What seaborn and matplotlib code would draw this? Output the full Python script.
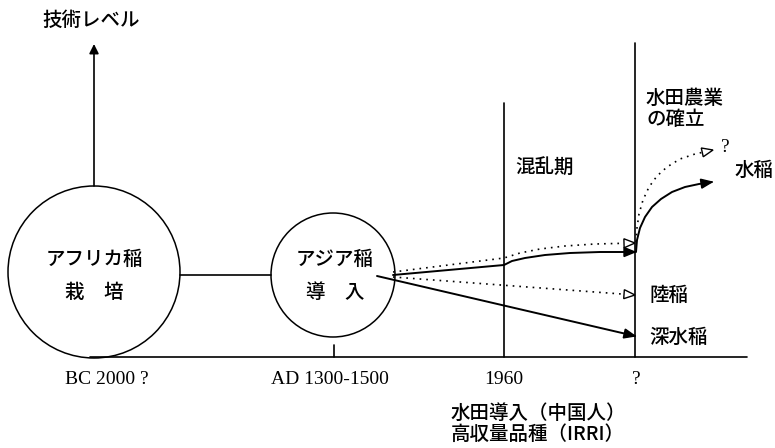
import numpy as np
import pandas as pd
import matplotlib
matplotlib.use("Agg")
import matplotlib.pyplot as plt
from matplotlib.patches import Circle, Polygon
import seaborn as sns

# ---------------- data ----------------
era_labels = ["BC 2000 ?", "AD 1300-1500", "1960", "?"]
era_x = [107, 330, 504, 636]
node_labels = [["アフリカ稲", "栽　培"], ["アジア稲", "導　入"]]
period_labels = ["混乱期", "水田農業\nの確立"]
variety_labels = ["水稲", "陸稲", "深水稲", "?"]
y_axis_label = "技術レベル"
note_labels = ["水田導入（中国人）", "高収量品種（IRRI）"]

# paths (x, level) -- screen pixel units
path_rain_dotted_x = [393, 504, 520, 540, 565, 595, 635]
path_rain_dotted_y = [272, 258, 253, 249, 246, 244, 243]
path_paddy_x = [393, 504, 512, 525, 545, 570, 600, 635]
path_paddy_y = [275, 265, 261, 258, 255, 253, 252, 252]
path_upland_x = [393, 635]
path_upland_y = [277, 295]
path_deep_x = [377, 635]
path_deep_y = [276, 336]
path_wet_x = [636, 637, 640, 645, 652, 661, 672, 685, 699, 712]
path_wet_y = [252, 240, 228, 217, 207, 199, 192, 187, 184, 182]
path_q_x = [636, 637, 639, 643, 649, 657, 667, 680, 695, 713]
path_q_y = [242, 228, 214, 200, 187, 176, 167, 159, 154, 150]

# ---------------- figure ----------------
sns.set_theme(style="white")
plt.rcParams["font.family"] = ["Noto Sans CJK JP", "DejaVu Sans"]

fig = plt.figure(figsize=(7.75, 4.48), dpi=100)
ax = fig.add_axes([0, 0, 1, 1])
ax.set_xlim(0, 775)
ax.set_ylim(448, 0)
ax.axis("off")

K = "black"


def draw_path(xs, ys, dotted=False, filled=True, lw=1.4):
    df = pd.DataFrame({"x": xs, "y": ys})
    sns.lineplot(data=df, x="x", y="y", ax=ax, sort=False, estimator=None,
                 color=K, lw=1.2 if dotted else lw,
                 dashes=False, legend=False)
    if dotted:
        ax.lines[-1].set_dashes([1, 3])
    ax.lines[-1].set_solid_joinstyle("round")
    # arrowhead
    x0, y0, x1, y1 = xs[-2], ys[-2], xs[-1], ys[-1]
    d = np.array([x1 - x0, y1 - y0], float)
    d /= np.linalg.norm(d)
    n = np.array([-d[1], d[0]])
    L, W = 11, 4.5
    tip = np.array([x1, y1])
    base = tip - d * L
    pts = [tip, base + n * W, base - n * W]
    ax.add_patch(Polygon(pts, closed=True, fc=K if filled else "white",
                         ec=K, lw=1.0, zorder=5))


# circles
ax.add_patch(Circle((94, 272), 86, fill=False, ec=K, lw=1.1))
ax.add_patch(Circle((333, 275), 62, fill=False, ec=K, lw=1.1))

# structural lines
ax.plot([180, 271], [275, 275], color=K, lw=1.2)
ax.plot([90, 747], [357, 357], color=K, lw=1.2)
ax.plot([334, 334], [345, 357], color=K, lw=1.2)
ax.plot([504, 504], [103, 357], color=K, lw=1.2)
ax.plot([635, 635], [43, 357], color=K, lw=1.2)
ax.annotate("", xy=(94, 44), xytext=(94, 186),
            arrowprops=dict(arrowstyle="-|>", color=K, lw=1.2,
                            mutation_scale=14, shrinkA=0, shrinkB=0))

# paths
draw_path(path_rain_dotted_x, path_rain_dotted_y, dotted=True, filled=False)
draw_path(path_paddy_x, path_paddy_y)
draw_path(path_upland_x, path_upland_y, dotted=True, filled=False)
draw_path(path_deep_x, path_deep_y)
draw_path(path_wet_x, path_wet_y)
draw_path(path_q_x, path_q_y, dotted=True, filled=False)

# texts
jp = dict(fontsize=14, color=K, fontweight="medium")
serif = dict(fontsize=14, color=K, family=["Liberation Serif", "DejaVu Serif"])

ax.text(42, 20, y_axis_label, ha="left", va="center", **jp)
for cx, lines in zip([94, 335], node_labels):
    ax.text(cx, 259, lines[0], ha="center", va="center", **jp)
    ax.text(cx, 293, lines[1], ha="center", va="center", **jp)

for lab, x in zip(era_labels, era_x):
    ax.text(x, 380, lab, ha="center", va="center", **serif)

ax.text(451, 413, note_labels[0], ha="left", va="center", **jp)
ax.text(451, 434, note_labels[1], ha="left", va="center", **jp)

ax.text(515, 167, period_labels[0], ha="left", va="center", **jp)
ax.text(646, 109, period_labels[1], ha="left", va="center",
        linespacing=1.1, **jp)

ax.text(735, 170, variety_labels[0], ha="left", va="center", **jp)
ax.text(649, 295, variety_labels[1], ha="left", va="center", **jp)
ax.text(649, 337, variety_labels[2], ha="left", va="center", **jp)
ax.text(721, 147, variety_labels[3], ha="left", va="center", **serif)

fig.savefig("out.png", dpi=100, facecolor="white")
